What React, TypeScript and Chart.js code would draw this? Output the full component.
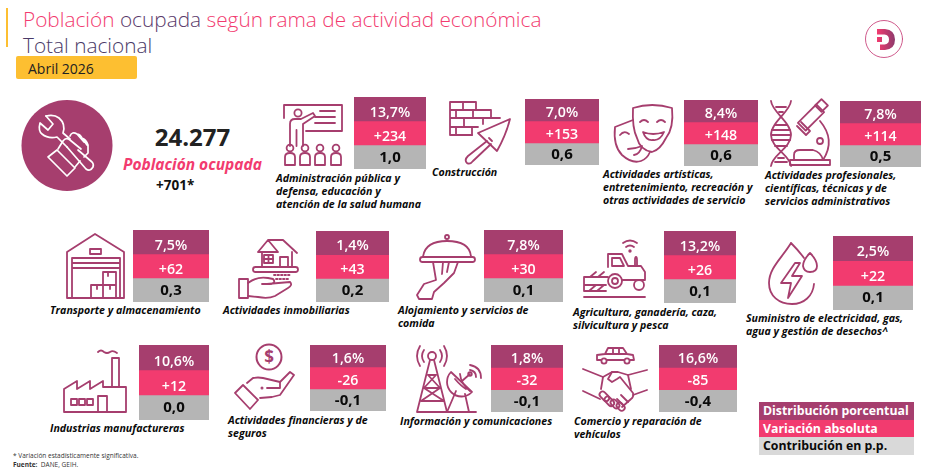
import { useEffect, useRef } from "react";
import { Chart, registerables } from "chart.js";

Chart.register(...registerables);

const PURPLE = "#A63E6E";
const PINK = "#F23B6F";
const GREY = "#B5B5B5";
const FONT = '"Open Sans", sans-serif';

// values, same order everywhere
const sectors = [
  ["Administración pública y", "defensa, educación y", "atención de la salud humana"],
  ["Construcción"],
  ["Actividades artísticas,", "entretenimiento, recreación y", "otras actividades de servicio"],
  ["Actividades profesionales,", "científicas, técnicas y de", "servicios administrativos"],
  ["Transporte y almacenamiento"],
  ["Actividades inmobiliarias"],
  ["Alojamiento y servicios de", "comida"],
  ["Agricultura, ganadería, caza,", "silvicultura y pesca"],
  ["Suministro de electricidad, gas,", "agua y gestión de desechos^"],
  ["Industrias manufactureras"],
  ["Actividades financieras y de", "seguros"],
  ["Información y comunicaciones"],
  ["Comercio y reparación de", "vehículos"],
];
const shares = [13.7, 7.0, 8.4, 7.8, 7.5, 1.4, 7.8, 13.2, 2.5, 10.6, 1.6, 1.8, 16.6];
const changes = [234, 153, 148, 114, 62, 43, 30, 26, 22, 12, -26, -32, -85];
const contributions = [1.0, 0.6, 0.6, 0.5, 0.3, 0.2, 0.1, 0.1, 0.1, 0.0, -0.1, -0.1, -0.4];
const legendLabels = ["Distribución porcentual", "Variación absoluta", "Contribución en p.p."];

// page layout: left, top, width, height of each tile
const tileBoxes = [
  [354, 97, 72, 72],
  [525, 99, 74, 66],
  [684, 100, 74, 66],
  [840, 101, 81, 66],
  [133, 230, 76, 72],
  [316, 231, 73, 71],
  [484, 230, 79, 72],
  [664, 231, 72, 72],
  [833, 236, 80, 74],
  [139, 345, 70, 75],
  [310, 345, 76, 66],
  [491, 345, 72, 67],
  [659, 345, 78, 67],
];
const captionSpots = [
  [276, 172],
  [432, 166],
  [603, 168],
  [765, 169],
  [50, 304],
  [223, 304],
  [398, 304],
  [573, 306],
  [746, 312],
  [50, 422],
  [228, 414],
  [400, 415],
  [574, 415],
];

const decimal = (v: number) => v.toFixed(1).replace(".", ",");
const signed = (v: number) => (v > 0 ? "+" + v : String(v));

const tileText = {
  id: "tileText",
  afterDatasetsDraw(chart: any) {
    const ctx = chart.ctx;
    const bandH = chart.height / 3;
    ctx.save();
    ctx.textAlign = "center";
    ctx.textBaseline = "middle";
    chart.data.datasets.forEach((ds: any, i: number) => {
      const p = chart.getDatasetMeta(i).data[0].getCenterPoint();
      // the white figures sit low in their bands in the original
      const drop = i < 2 ? (bandH - 22) * 0.6 + 2.5 : 0.5;
      ctx.font = i === 2 ? `700 15px ${FONT}` : `600 14.2px ${FONT}`;
      ctx.fillStyle = i === 2 ? "#0a0a0a" : "#ffffff";
      ctx.fillText(ds.label, p.x, p.y + drop);
    });
    ctx.restore();
  },
};

function Tile({ index }: { index: number }) {
  const ref = useRef<HTMLCanvasElement>(null);
  const [left, top, width, height] = tileBoxes[index];

  useEffect(() => {
    if (!ref.current) return;
    const band = (label: string, color: string) => ({
      label,
      data: [1],
      backgroundColor: color,
      borderWidth: 0,
      barPercentage: 1,
      categoryPercentage: 1,
    });
    const chart = new Chart(ref.current, {
      type: "bar",
      data: {
        labels: [sectors[index].join(" ")],
        datasets: [
          band(decimal(shares[index]) + "%", PURPLE),
          band(signed(changes[index]), PINK),
          band(decimal(contributions[index]), GREY),
        ],
      },
      options: {
        animation: false,
        responsive: false,
        layout: { padding: 0 },
        plugins: { legend: { display: false }, tooltip: { enabled: false } },
        scales: {
          x: { display: false, stacked: true },
          y: { display: false, stacked: true, reverse: true, min: 0, max: 3 },
        },
      },
      plugins: [tileText],
    });
    return () => chart.destroy();
  }, [index]);

  return (
    <canvas
      ref={ref}
      width={width}
      height={height}
      style={{ position: "absolute", left, top, width, height }}
    />
  );
}

const abs = (left: number, top: number, extra: object = {}) => ({
  position: "absolute" as const,
  left,
  top,
  whiteSpace: "nowrap" as const,
  ...extra,
});

function Icons() {
  return (
    <svg
      width={928}
      height={469}
      style={{ position: "absolute", left: 0, top: 0 }}
      fill="none"
      stroke={PURPLE}
      strokeWidth={1.8}
      strokeLinejoin="round"
      strokeLinecap="round"
    >
      <defs>
        <linearGradient id="logoD" x1="0" x2="1" y1="0" y2="0">
          <stop offset="0" stopColor="#F23B6F" />
          <stop offset="1" stopColor="#8E3A6C" />
        </linearGradient>
      </defs>

      {/* logo */}
      <circle cx={884} cy={39} r={18.5} stroke="#C9487F" strokeWidth={0.9} />
      <path
        d="M877 29 H885 Q895 30 895 39.5 Q895 49 885 50 H880 V44.5 H884.5 Q889 44 889 39.5 Q889 35 884.5 34.5 H877 Z M877 37 H882 V42 H877 Z"
        fill="url(#logoD)"
        stroke="none"
      />

      {/* big circle, wrench and fist */}
      <circle cx={67} cy={145.5} r={45.5} fill={PURPLE} stroke="none" />
      <g stroke="#fff" strokeWidth={1.7}>
        <path d="M46 116 L53 124 L48 130 L40 123 Q38 131 42 134 Q48 139 57 137 L67 147" />
        <path d="M46 116 Q54 114 59 118 Q66 124 63 133 L70 139" />
        <path d="M58 149 L63 141 Q66 137 70 140 L81 149" />
        <path d="M70 136 Q72 131 77 134 L84 142 M77 134 Q80 134 82 138 L87 145 M82 138 Q86 139 88 145 L88 153 L84 157" />
        <path d="M67 147 L86 169 Q90 172 93 167 Q94 164 92 162 L78 150" />
        <path d="M57 150 L48 157 L67 176 L75 168 Z" />
        <path d="M75 167 L80 161" />
      </g>

      {/* administracion */}
      <path d="M284 118 V105 H342 V131 H306" />
      <path d="M320 111 H335 M315 117 H335 M315 123 H335" />
      <circle cx={298} cy={113} r={3.6} />
      <path d="M290 146 V124 Q290 119 295 119 H301 L313 113 L315 116 L303 124 V146 M296.5 146 V130" />
      {[290, 305, 320, 336].map((x) => (
        <g key={x}>
          <circle cx={x} cy={148} r={3.4} />
          <path d={`M${x - 5} 165 V157 Q${x - 5} 153 ${x} 153 Q${x + 5} 153 ${x + 5} 157 V165 Z`} />
        </g>
      ))}

      {/* construccion */}
      <path d="M450 102 H476 V110 M450 110 H491 V118 M450 118 H500 M450 127 H478 M450 135 H472 M450 102 V135" />
      <path d="M463 102 V110 M456 110 V118 M473 110 V118 M464 118 V127 M483 118 V124 M456 127 V135 M472 127 V135" />
      <path d="M510 119 L478 133 L497 151 Q506 135 510 119 Z" />
      <path d="M489 138 L492 141 M487 141 L468 156 Q464 160 467 163 Q470 165 473 161 L491 144" />

      {/* mascaras */}
      <path d="M633 108 Q652 102 672 108 Q674 128 666 138 Q660 150 652 152 Q640 150 637 138 Q632 128 633 108 Z" />
      <path d="M640 122 Q644 118 648 122 M657 122 Q661 118 665 122" />
      <path d="M643 132 Q653 136 664 132 Q660 141 653 140 Q646 141 643 132 Z" />
      <path d="M633 120 L615 127 Q613 146 622 155 Q632 164 641 161 Q647 159 650 152" />
      <path d="M620 135 Q624 130 629 134 M628 149 Q635 149 642 146 Q640 154 634 155" />

      {/* adn y microscopio */}
      <path d="M771 101 C772 112 791 122 791 135 C791 148 772 155 771 166" />
      <path d="M791 101 C790 112 771 122 771 135 C771 148 790 155 791 166" />
      <path d="M776 107 H786 M779 112 H783 M775 125 H787 M772 130 H790 M772 135 H790 M772 140 H790 M775 146 H787 M778 158 H784 M775 162 H787" />
      <rect x={798} y={112} width={26} height={11} transform="rotate(-45 811 117.5)" />
      <rect x={817} y={101} width={9} height={9} transform="rotate(-45 821.5 105.5)" />
      <path d="M797 126 L806 135 L810 131 L801 122" />
      <path d="M820 121 Q836 140 823 160" />
      <circle cx={820} cy={141} r={3} />
      <path d="M794 160 V155 Q794 150 800 150 H813 Q821 152 823 160 Z M790 165 H830 V160 H790 Z" />

      {/* bodega */}
      <path d="M67 298 V252 L95 234 L124 252 V298 H67 Z" />
      <path d="M72 298 V258 H120 V298 M72 263 H120 M72 268 H120" />
      <rect x={90} y={249} width={11} height={5} />
      <path d="M103 285 V272 H116 V298 H91 V285 H116 M103 285 V298 M108 272 V276 M97 285 V289 M110 285 V289" />

      {/* vivienda */}
      <path d="M258 252 L268 240 H283 L297 253 M268 240 L278 252 H258 M262 252 V267 H292 V252" />
      <rect x={264} y={255} width={9} height={8} />
      <path d="M268.5 255 V263 M264 259 H273 M280 267 V257 H288 V267" />
      <rect x={253} y={267} width={45} height={5} rx={2.5} />
      <path d="M274 275 H290 M276 279 H288" strokeDasharray="1.5 2" />
      <rect x={239} y={279} width={9} height={19} />
      <path d="M248 283 Q257 276 268 278 L273 279 Q276 282 272 284 H262 M267 284 L290 282 Q293 285 288 288 L275 296 Q268 299 258 297 L248 296" />

      {/* alojamiento */}
      <circle cx={447} cy={237} r={2} />
      <path d="M423 257 Q425 241 447 241 Q470 241 471 257" />
      <rect x={420} y={257} width={55} height={5} rx={2.5} />
      <path d="M433 262 L436 280 L424 284 L417 295 L419 299 H432 L434 292 L444 283 L454 273 L458 262" />
      <path d="M443 262 L442 274 M449 262 L447 272" />

      {/* agricultura */}
      <path d="M623 243 Q630 238 637 243 M626 247 Q630 244 634 247" />
      <circle cx={630} cy={251} r={0.8} />
      <path d="M608 267 V254 H622 L628 266 H641 L645 272 V280 H622" />
      <path d="M612 258 H620 L624 266 H612 Z" />
      <path d="M635 266 V260 Q635 257 636 257 Q637 257 637 260 V266" />
      <circle cx={615} cy={281} r={7} />
      <circle cx={615} cy={281} r={3} />
      <circle cx={639} cy={285} r={5} />
      <path d="M584 277 H608 M584 277 V291 H606 M584 285 H606 M589 291 L596 285 M597 291 L604 285 M590 277 L596 272 M598 277 L604 272 M584 297 H645" />

      {/* energia */}
      <path d="M791 243 C782 258 769 268 769 283 C769 296 779 304 792 304 C804 304 813 296 814 284 M791 243 Q799 251 804 258" />
      <path d="M810 253 Q803 260 803 266 Q804 272 810 272 Q817 272 817 266 Q817 260 810 253 Z" />
      <path d="M795 263 L781 283 H791 L788 298 L802 276 H792 L800 263 Z" />

      {/* industria */}
      <path d="M64 412 V389 L77 381 V389 L90 381 V389 L103 381 V387 M112 387 V358 H119 V387 M64 412 H126 V387 H103" />
      <path d="M98 352 Q101 349 104 352 Q107 354 110 352 Q113 350 117 353" />
      <rect x={71} y={399} width={6} height={6} />
      <rect x={79} y={399} width={6} height={6} />
      <rect x={87} y={399} width={6} height={6} />
      <path d="M98 412 V396 H107 V412" />

      {/* finanzas */}
      <circle cx={269} cy={357} r={12.5} strokeWidth={2} />
      <text x={269} y={363} textAnchor="middle" fontFamily={FONT} fontWeight={700} fontSize={17} fill={PURPLE} stroke="none">$</text>
      <path d="M235 393 L243 385 L258 400 L250 409 Z" />
      <path d="M247 383 L253 378 Q258 377 263 378 L280 382 L290 372 L294 375 L280 395 L272 397 L260 398" />
      <path d="M267 388 H280 V382" />
      <circle cx={262} cy={388} r={0.6} />

      {/* torre */}
      <circle cx={432} cy={356} r={4} />
      <path d="M424 350 Q420 356 424 362 M440 350 Q444 356 440 362 M420 346 Q414 356 420 366 M444 346 Q450 356 444 366" />
      <path d="M430 360 L417 412 M434 360 L447 412 M428 375 H436 L424 388 H440 L421 401 H444 M428 375 L440 388 L424 388 L444 401 M417 412 H447" />
      <path d="M451 372 A14.5 14.5 0 0 0 472 392 Z" />
      <path d="M456 391 L447 412 M465 394 L469 412 M447 412 H476" />
      <path d="M455 379 Q461 386 466 389 M460 374 Q461 384 470 391" />
      <path d="M470 374 L462 381 M470 370 Q476 371 476 377 M470 365 Q481 367 481 378" />
      <circle cx={470} cy={374} r={1.8} />

      {/* comercio */}
      <path d="M597 360 V355 L605 354 L608 348 H623 L627 354 L633 355 L634 360 Z M613 348 V354 M619 348 V354 M605 354 H627" />
      <circle cx={604} cy={361} r={2.6} fill="#fff" />
      <circle cx={627} cy={361} r={2.6} fill="#fff" />
      <path d="M583 369 L603 377 L612 372 H618 L628 375 L647 370" />
      <path d="M583 391 L600 399 M647 390 L633 395" />
      <path d="M612 372 L608 379 L612 382 L617 379 L620 377 L633 393 Q634 397 631 399 L622 407" />
      <path d="M603 377 L601 389 M628 375 L631 389" />
      <g>
        <rect x={599} y={393} width={11} height={6} rx={3} transform="rotate(45 604 396)" />
        <rect x={604} y={398} width={11} height={6} rx={3} transform="rotate(45 609 401)" />
        <rect x={610} y={401} width={10} height={6} rx={3} transform="rotate(45 615 404)" />
        <rect x={616} y={404} width={9} height={6} rx={3} transform="rotate(45 621 407)" />
      </g>
      <path d="M621 395 L628 402 M617 399 L624 406" />
    </svg>
  );
}

export default function App() {
  const legendRows: [string, string, string][] = [
    [legendLabels[0], PURPLE, "#fff"],
    [legendLabels[1], PINK, "#fff"],
    [legendLabels[2], "#D9D9D9", "#0a0a0a"],
  ];
  return (
    <div style={{ position: "absolute", left: 0, top: 0, width: 928, height: 469, overflow: "hidden", background: "#fff", fontFamily: FONT }}>
      <Icons />

      <div style={{ position: "absolute", left: 6, top: 8, width: 2, height: 39, background: "#FDBF31" }} />
      <div style={abs(23, 6, { fontSize: 20.8, fontWeight: 300, lineHeight: "26px", color: PINK })}>
        Población <span style={{ color: "#5A3A6B" }}>ocupada</span> según rama de actividad económica
      </div>
      <div style={abs(23, 32, { fontSize: 20.8, fontWeight: 300, lineHeight: "26px", color: "#4A3A68" })}>Total nacional</div>
      <div style={abs(16, 56, { width: 121, height: 23, background: "#FDBF31", borderRadius: 2 })} />
      <div style={abs(28, 58, { fontSize: 14, lineHeight: "21px", color: "#222" })}>Abril 2026</div>

      <div style={abs(123, 122, { width: 139, textAlign: "center", fontSize: 24, fontWeight: 700, lineHeight: "30px", color: "#222" })}>24.277</div>
      <div style={abs(123, 156, { fontSize: 15.5, fontWeight: 700, fontStyle: "italic", lineHeight: "17px", color: PINK })}>Población ocupada</div>
      <div style={abs(156, 177.5, { fontSize: 13.5, fontWeight: 700, lineHeight: "14px", color: "#111" })}>+701*</div>

      {sectors.map((lines, i) => (
        <div key={i} style={abs(captionSpots[i][0], captionSpots[i][1], { fontSize: 10.6, fontWeight: 700, fontStyle: "italic", lineHeight: "12.8px", color: "#0a0a0a" })}>
          {lines.map((l) => (
            <div key={l}>{l}</div>
          ))}
        </div>
      ))}

      {shares.map((_, i) => (
        <Tile key={i} index={i} />
      ))}

      <div style={abs(759, 402, { width: 155 })}>
        {legendRows.map(([text, bg, fg]) => (
          <div key={text} style={{ height: 17.7, lineHeight: "18px", background: bg, color: fg, fontSize: 12.3, fontWeight: 700, paddingLeft: 4 }}>
            {text}
          </div>
        ))}
      </div>

      <div style={abs(13, 451, { fontSize: 6.5, lineHeight: "9px", color: "#333" })}>* Variación estadísticamente significativa.</div>
      <div style={abs(13, 460, { fontSize: 6.5, lineHeight: "9px", color: "#333" })}>
        <b>Fuente:</b>&nbsp; DANE, GEIH.
      </div>
    </div>
  );
}
